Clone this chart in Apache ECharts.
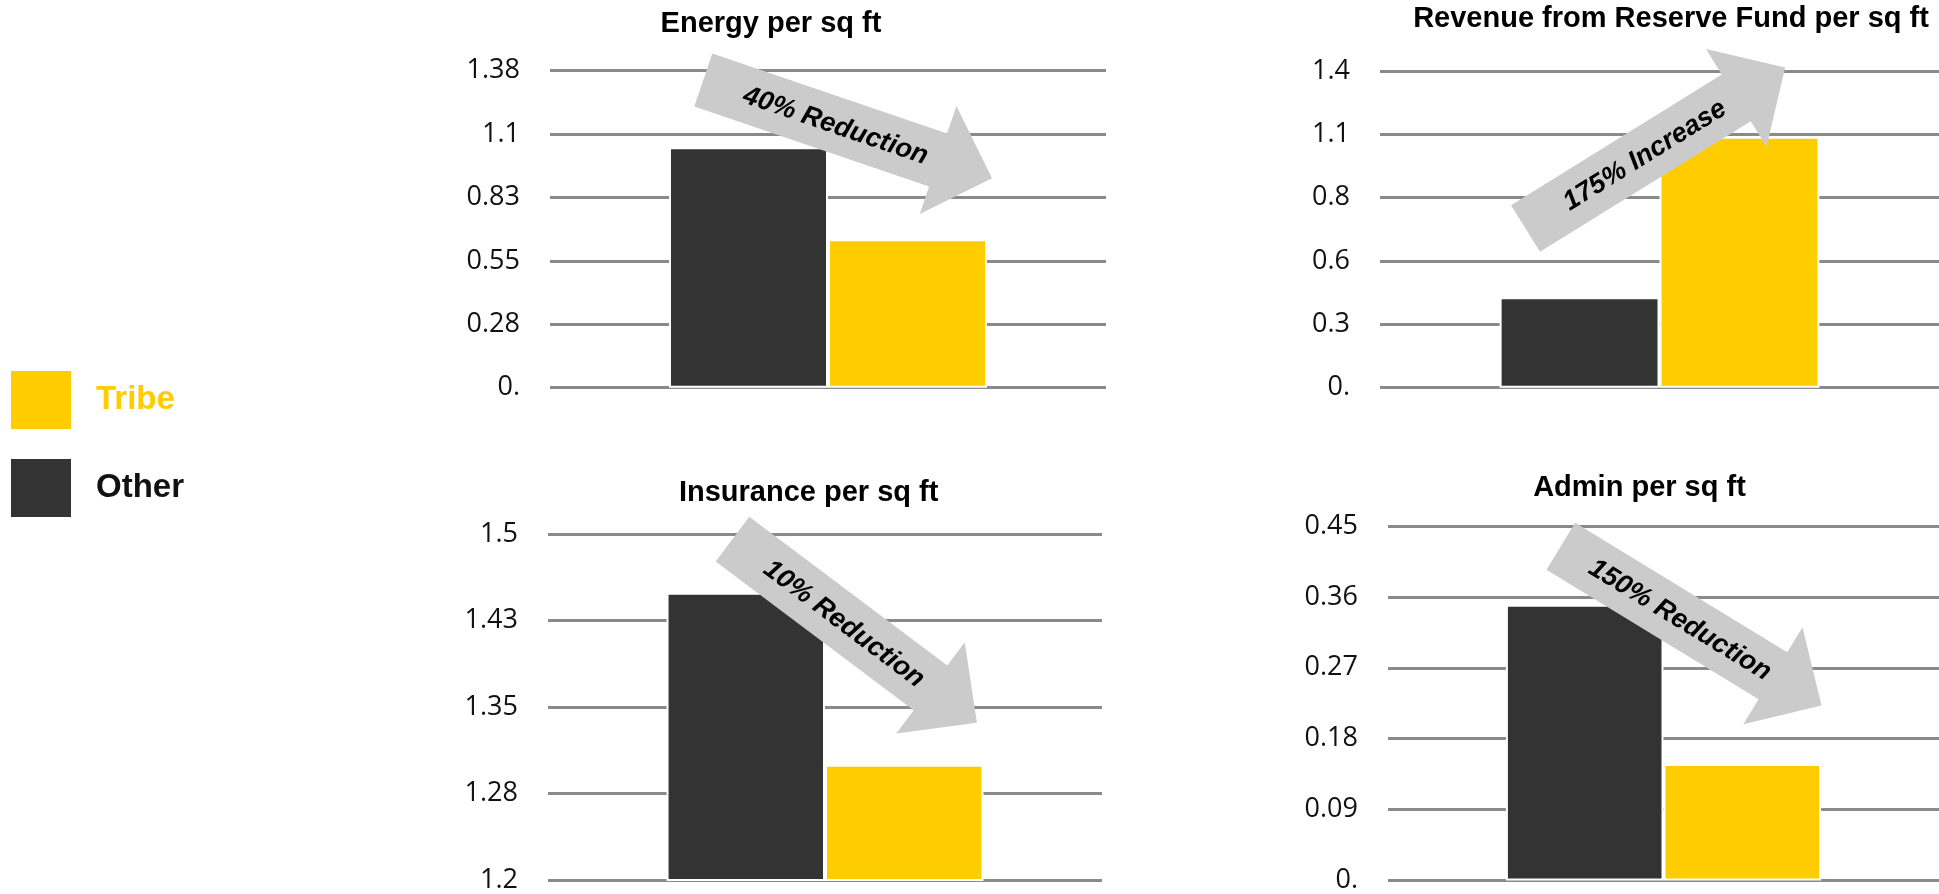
<!DOCTYPE html>
<html>
<head>
<meta charset="utf-8">
<script src="https://cdn.jsdelivr.net/npm/echarts@6/dist/echarts.min.js"></script>
<style>
html,body{margin:0;padding:0;background:#fff;}
#c{width:1939px;height:894px;}
</style>
</head>
<body>
<div id="c"></div>
<script>
// ---------- data ----------
const legendNames = ['Tribe', 'Other'];
const chartTitles = ['Energy per sq ft', 'Revenue from Reserve Fund per sq ft', 'Insurance per sq ft', 'Admin per sq ft'];
const otherValues = [1.042, 0.393, 1.449, 0.350];
const tribeValues = [0.644, 1.089, 1.300, 0.148];
const energyTicks = ['0.', '0.28', '0.55', '0.83', '1.1', '1.38'];
const revenueTicks = ['0.', '0.3', '0.6', '0.8', '1.1', '1.4'];
const insuranceTicks = ['1.2', '1.28', '1.35', '1.43', '1.5'];
const adminTicks = ['0.', '0.09', '0.18', '0.27', '0.36', '0.45'];
const axisMin = [0, 0, 1.2, 0];
const axisMax = [1.375, 1.375, 1.5, 0.45];
const axisStep = [0.275, 0.275, 0.075, 0.09];
const arrowLabels = ['40% Reduction', '175% Increase', '10% Reduction', '150% Reduction'];

// ---------- layout / style ----------
const tickSets = [energyTicks, revenueTicks, insuranceTicks, adminTicks];
const OTHER_COLOR = '#333333';
const TRIBE_COLOR = '#FFCC00';
const ARROW_COLOR = '#cbcbcb';

const grids = [
  {left: 550, top: 70.5, width: 556, height: 317.2},
  {left: 1380, top: 71, width: 570, height: 316.7},
  {left: 548, top: 534, width: 554, height: 346},
  {left: 1388, top: 526, width: 566, height: 356}
];
const titlePos = [[771, 23.5], [1671, 19], [808.7, 492.5], [1639.5, 488]];
const arrows = [
  {x: 703.3, y: 80, ang: 18.8, ls: 248, ws: 56, wh: 114, lh: 57},
  {x: 1525.5, y: 228.5, ang: -31.8, ls: 248, ws: 55, wh: 115, lh: 57.5},
  {x: 732.5, y: 539.2, ang: 36.9, ls: 247.6, ws: 56, wh: 114, lh: 58},
  {x: 1560.8, y: 546.3, ang: 31.4, ls: 248.5, ws: 55, wh: 113.5, lh: 57}
];

function arrowGeom(a) {
  const r = a.ang * Math.PI / 180, c = Math.cos(r), s = Math.sin(r);
  const nx = -s, ny = c;
  const P = (t, w) => [a.x + c * t + nx * w, a.y + s * t + ny * w];
  return {
    points: [P(0, -a.ws / 2), P(a.ls, -a.ws / 2), P(a.ls, -a.wh / 2), P(a.ls + a.lh, 0),
             P(a.ls, a.wh / 2), P(a.ls, a.ws / 2), P(0, a.ws / 2)],
    textPos: P(140, 1),
    rot: -r
  };
}

const xAxes = [], yAxes = [], series = [], graphics = [];
grids.forEach((g, i) => {
  xAxes.push({
    type: 'category', gridIndex: i, data: [''],
    axisLine: {show: false}, axisTick: {show: false}, axisLabel: {show: false}, splitLine: {show: false}
  });
  yAxes.push({
    type: 'value', gridIndex: i, min: axisMin[i], max: axisMax[i], interval: axisStep[i],
    axisLine: {show: false}, axisTick: {show: false},
    splitLine: {show: true, lineStyle: {color: '#8a8a8a', width: 2.8}},
    axisLabel: {
      margin: 30, fontFamily: '"Open Sans", "Noto Sans", sans-serif', fontSize: 27, color: '#111',
      formatter: (v, idx) => tickSets[i][idx]
    }
  });
  series.push({
    name: 'Other', type: 'bar', xAxisIndex: i, yAxisIndex: i, data: [otherValues[i]],
    barWidth: '28.6%', barGap: '0%',
    itemStyle: {color: OTHER_COLOR, borderColor: '#fff', borderWidth: 2}
  });
  series.push({
    name: 'Tribe', type: 'bar', xAxisIndex: i, yAxisIndex: i, data: [tribeValues[i]],
    barWidth: '28.6%', barGap: '0%',
    itemStyle: {color: TRIBE_COLOR, borderColor: '#fff', borderWidth: 2}
  });
  graphics.push({
    type: 'text', x: titlePos[i][0], y: titlePos[i][1], z: 50,
    style: {
      text: chartTitles[i], fill: '#000',
      fontFamily: '"Liberation Sans", Arial, sans-serif', fontWeight: 'bold', fontSize: 29,
      align: 'center', verticalAlign: 'middle', textAlign: 'center', textVerticalAlign: 'middle'
    }
  });
  const ag = arrowGeom(arrows[i]);
  graphics.push({
    type: 'polygon', z: 100, shape: {points: ag.points}, style: {fill: ARROW_COLOR, stroke: null}
  });
  graphics.push({
    type: 'text', x: ag.textPos[0], y: ag.textPos[1], rotation: ag.rot, z: 101,
    style: {
      text: arrowLabels[i], fill: '#000',
      fontFamily: '"Liberation Sans", Arial, sans-serif', fontWeight: 'bold', fontStyle: 'italic', fontSize: 27,
      align: 'center', verticalAlign: 'middle', textAlign: 'center', textVerticalAlign: 'middle'
    }
  });
});

const chart = echarts.init(document.getElementById('c'), null, {renderer: 'canvas'});
chart.setOption({
  backgroundColor: '#ffffff',
  animation: false,
  legend: {
    orient: 'vertical', left: 11, top: 371, padding: 0,
    itemWidth: 60, itemHeight: 58, itemGap: 30, icon: 'rect',
    itemStyle: {borderWidth: 0},
    selectedMode: false,
    data: [
      {name: legendNames[0], textStyle: {color: TRIBE_COLOR}},
      {name: legendNames[1], textStyle: {color: '#111'}}
    ],
    textStyle: {
      fontFamily: '"Liberation Sans", Arial, sans-serif', fontWeight: 'bold', fontSize: 33,
      padding: [0, 0, 0, 20]
    }
  },
  grid: grids,
  xAxis: xAxes,
  yAxis: yAxes,
  series: series,
  graphic: graphics
});
</script>
</body>
</html>
